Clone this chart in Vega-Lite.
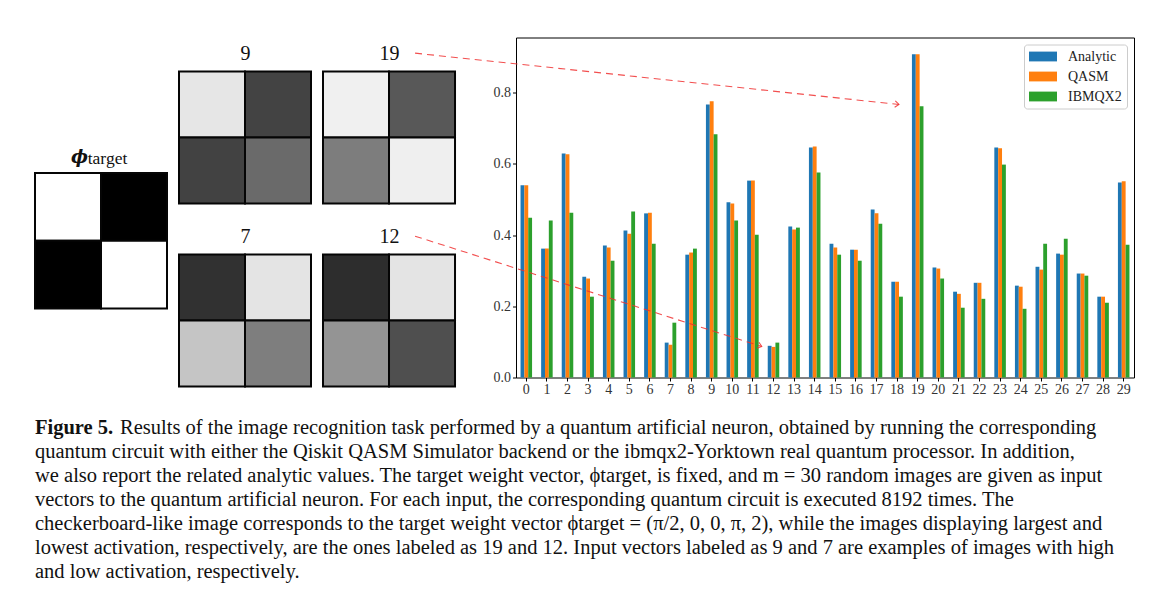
{
  "$schema": "https://vega.github.io/schema/vega-lite/v6.json",
  "padding": {"left": 34, "top": 36.5, "right": 5, "bottom": 5},
  "background": "white",
  "datasets": {
    "cells": [
      {"img": "target", "row": 0, "col": 0, "v": 1.0},
      {"img": "target", "row": 0, "col": 1, "v": 0.0},
      {"img": "target", "row": 1, "col": 0, "v": 0.0},
      {"img": "target", "row": 1, "col": 1, "v": 1.0},
      {"img": "9", "row": 0, "col": 0, "v": 0.914},
      {"img": "9", "row": 0, "col": 1, "v": 0.286},
      {"img": "9", "row": 1, "col": 0, "v": 0.278},
      {"img": "9", "row": 1, "col": 1, "v": 0.45},
      {"img": "19", "row": 0, "col": 0, "v": 0.949},
      {"img": "19", "row": 0, "col": 1, "v": 0.373},
      {"img": "19", "row": 1, "col": 0, "v": 0.525},
      {"img": "19", "row": 1, "col": 1, "v": 0.945},
      {"img": "7", "row": 0, "col": 0, "v": 0.204},
      {"img": "7", "row": 0, "col": 1, "v": 0.906},
      {"img": "7", "row": 1, "col": 0, "v": 0.796},
      {"img": "7", "row": 1, "col": 1, "v": 0.529},
      {"img": "12", "row": 0, "col": 0, "v": 0.184},
      {"img": "12", "row": 0, "col": 1, "v": 0.906},
      {"img": "12", "row": 1, "col": 0, "v": 0.612},
      {"img": "12", "row": 1, "col": 1, "v": 0.337}
    ],
    "caption": [
      {"line": 1, "part": "label", "text": "Figure 5."},
      {"line": 1, "part": "first", "text": "Results of the image recognition task performed by a quantum artificial neuron, obtained by running the corresponding"},
      {"line": 2, "part": "body", "text": "quantum circuit with either the Qiskit QASM Simulator backend or the ibmqx2-Yorktown real quantum processor. In addition,"},
      {"line": 3, "part": "body", "text": "we also report the related analytic values. The target weight vector, ϕtarget, is fixed, and m = 30 random images are given as input"},
      {"line": 4, "part": "body", "text": "vectors to the quantum artificial neuron. For each input, the corresponding quantum circuit is executed 8192 times. The"},
      {"line": 5, "part": "body", "text": "checkerboard-like image corresponds to the target weight vector ϕtarget = (π/2, 0, 0, π, 2), while the images displaying largest and"},
      {"line": 6, "part": "body", "text": "lowest activation, respectively, are the ones labeled as 19 and 12. Input vectors labeled as 9 and 7 are examples of images with high"},
      {"line": 7, "part": "body", "text": "and low activation, respectively."}
    ]
  },
  "vconcat": [
    {
      "hconcat": [
        {
          "width": 132,
          "height": 271,
          "data": {"name": "cells"},
          "transform": [{"filter": "datum.img == 'target'"}],
          "mark": {"type": "rect", "stroke": "#050505", "strokeWidth": 2},
          "encoding": {
            "x": {"field": "col", "type": "ordinal", "scale": {"paddingInner": 0, "paddingOuter": 0},
              "axis": {"orient": "top", "labels": false, "ticks": false, "domain": false, "title": "target", "titleX": 72, "titleY": 125.7, "titleAlign": "center", "titleBaseline": "alphabetic", "titleFontSize": 17.5}},
            "y": {"field": "row", "type": "ordinal", "scale": {"paddingInner": 0, "paddingOuter": 1.053, "align": 1},
              "axis": {"labels": false, "ticks": false, "domain": false, "title": "ϕ", "titleAngle": 0, "titleX": 44, "titleY": 125, "titleAlign": "center", "titleBaseline": "alphabetic", "titleFont": "DejaVu Serif", "titleFontStyle": "italic", "titleFontWeight": "bold", "titleFontSize": 18}},
            "color": {"field": "v", "type": "quantitative", "scale": {"domain": [0, 1], "range": ["#000000", "#ffffff"]}, "legend": null}
          }
        },
        {
          "width": 132,
          "height": 349,
          "data": {"name": "cells"},
          "transform": [{"filter": "datum.img == '9' || datum.img == '7'"}],
          "mark": {"type": "rect", "stroke": "#050505", "strokeWidth": 2},
          "encoding": {
            "x": {"field": "col", "type": "ordinal", "scale": {"paddingInner": 0, "paddingOuter": 0}, "axis": null},
            "y": {"field": "img", "type": "nominal", "sort": ["9", "7"], "scale": {"type": "band", "paddingInner": 0.2787, "paddingOuter": 0.0929, "align": 1},
              "axis": {"title": null, "ticks": false, "tickSize": 0, "domain": false, "labelPadding": -66, "labelAlign": "center", "labelBaseline": "alphabetic", "labelOffset": -77.7, "labelFontSize": 20, "labelColor": "#111111", "labelAngle": 0}},
            "yOffset": {"field": "row", "type": "ordinal", "scale": {"paddingInner": 0, "paddingOuter": 0}},
            "color": {"field": "v", "type": "quantitative", "scale": {"domain": [0, 1], "range": ["#000000", "#ffffff"]}, "legend": null}
          }
        },
        {
          "width": 181,
          "height": 349,
          "data": {"name": "cells"},
          "transform": [{"filter": "datum.img == '19' || datum.img == '12'"}],
          "mark": {"type": "rect", "stroke": "#050505", "strokeWidth": 2},
          "encoding": {
            "x": {"field": "col", "type": "ordinal", "scale": {"paddingInner": 0, "paddingOuter": 0.371, "align": 0}, "axis": null},
            "y": {"field": "img", "type": "nominal", "sort": ["19", "12"], "scale": {"type": "band", "paddingInner": 0.2787, "paddingOuter": 0.0929, "align": 1},
              "axis": {"title": null, "ticks": false, "tickSize": 0, "domain": false, "labelPadding": -66, "labelAlign": "center", "labelBaseline": "alphabetic", "labelOffset": -77.7, "labelFontSize": 20, "labelColor": "#111111", "labelAngle": 0}},
            "yOffset": {"field": "row", "type": "ordinal", "scale": {"paddingInner": 0, "paddingOuter": 0}},
            "color": {"field": "v", "type": "quantitative", "scale": {"domain": [0, 1], "range": ["#000000", "#ffffff"]}, "legend": null}
          }
        },
        {
          "width": 618,
          "height": 340,
          "view": {"stroke": "#000000", "strokeWidth": 1},
          "layer": [
            {
              "data": {"values": [
                {"image": 0, "series": "Analytic", "value": 0.54}, {"image": 0, "series": "QASM", "value": 0.54}, {"image": 0, "series": "IBMQX2", "value": 0.449},
                {"image": 1, "series": "Analytic", "value": 0.362}, {"image": 1, "series": "QASM", "value": 0.362}, {"image": 1, "series": "IBMQX2", "value": 0.441},
                {"image": 2, "series": "Analytic", "value": 0.629}, {"image": 2, "series": "QASM", "value": 0.627}, {"image": 2, "series": "IBMQX2", "value": 0.463},
                {"image": 3, "series": "Analytic", "value": 0.283}, {"image": 3, "series": "QASM", "value": 0.278}, {"image": 3, "series": "IBMQX2", "value": 0.227},
                {"image": 4, "series": "Analytic", "value": 0.371}, {"image": 4, "series": "QASM", "value": 0.365}, {"image": 4, "series": "IBMQX2", "value": 0.328},
                {"image": 5, "series": "Analytic", "value": 0.413}, {"image": 5, "series": "QASM", "value": 0.404}, {"image": 5, "series": "IBMQX2", "value": 0.466},
                {"image": 6, "series": "Analytic", "value": 0.461}, {"image": 6, "series": "QASM", "value": 0.463}, {"image": 6, "series": "IBMQX2", "value": 0.376},
                {"image": 7, "series": "Analytic", "value": 0.098}, {"image": 7, "series": "QASM", "value": 0.092}, {"image": 7, "series": "IBMQX2", "value": 0.154},
                {"image": 8, "series": "Analytic", "value": 0.345}, {"image": 8, "series": "QASM", "value": 0.351}, {"image": 8, "series": "IBMQX2", "value": 0.362},
                {"image": 9, "series": "Analytic", "value": 0.767}, {"image": 9, "series": "QASM", "value": 0.776}, {"image": 9, "series": "IBMQX2", "value": 0.683},
                {"image": 10, "series": "Analytic", "value": 0.492}, {"image": 10, "series": "QASM", "value": 0.489}, {"image": 10, "series": "IBMQX2", "value": 0.441},
                {"image": 11, "series": "Analytic", "value": 0.553}, {"image": 11, "series": "QASM", "value": 0.553}, {"image": 11, "series": "IBMQX2", "value": 0.401},
                {"image": 12, "series": "Analytic", "value": 0.089}, {"image": 12, "series": "QASM", "value": 0.086}, {"image": 12, "series": "IBMQX2", "value": 0.098},
                {"image": 13, "series": "Analytic", "value": 0.424}, {"image": 13, "series": "QASM", "value": 0.416}, {"image": 13, "series": "IBMQX2", "value": 0.421},
                {"image": 14, "series": "Analytic", "value": 0.646}, {"image": 14, "series": "QASM", "value": 0.649}, {"image": 14, "series": "IBMQX2", "value": 0.576},
                {"image": 15, "series": "Analytic", "value": 0.376}, {"image": 15, "series": "QASM", "value": 0.365}, {"image": 15, "series": "IBMQX2", "value": 0.345},
                {"image": 16, "series": "Analytic", "value": 0.359}, {"image": 16, "series": "QASM", "value": 0.359}, {"image": 16, "series": "IBMQX2", "value": 0.328},
                {"image": 17, "series": "Analytic", "value": 0.472}, {"image": 17, "series": "QASM", "value": 0.461}, {"image": 17, "series": "IBMQX2", "value": 0.432},
                {"image": 18, "series": "Analytic", "value": 0.269}, {"image": 18, "series": "QASM", "value": 0.269}, {"image": 18, "series": "IBMQX2", "value": 0.227},
                {"image": 19, "series": "Analytic", "value": 0.908}, {"image": 19, "series": "QASM", "value": 0.908}, {"image": 19, "series": "IBMQX2", "value": 0.762},
                {"image": 20, "series": "Analytic", "value": 0.309}, {"image": 20, "series": "QASM", "value": 0.306}, {"image": 20, "series": "IBMQX2", "value": 0.278},
                {"image": 21, "series": "Analytic", "value": 0.241}, {"image": 21, "series": "QASM", "value": 0.235}, {"image": 21, "series": "IBMQX2", "value": 0.196},
                {"image": 22, "series": "Analytic", "value": 0.266}, {"image": 22, "series": "QASM", "value": 0.266}, {"image": 22, "series": "IBMQX2", "value": 0.221},
                {"image": 23, "series": "Analytic", "value": 0.646}, {"image": 23, "series": "QASM", "value": 0.644}, {"image": 23, "series": "IBMQX2", "value": 0.598},
                {"image": 24, "series": "Analytic", "value": 0.258}, {"image": 24, "series": "QASM", "value": 0.255}, {"image": 24, "series": "IBMQX2", "value": 0.193},
                {"image": 25, "series": "Analytic", "value": 0.311}, {"image": 25, "series": "QASM", "value": 0.303}, {"image": 25, "series": "IBMQX2", "value": 0.376},
                {"image": 26, "series": "Analytic", "value": 0.348}, {"image": 26, "series": "QASM", "value": 0.345}, {"image": 26, "series": "IBMQX2", "value": 0.39},
                {"image": 27, "series": "Analytic", "value": 0.292}, {"image": 27, "series": "QASM", "value": 0.292}, {"image": 27, "series": "IBMQX2", "value": 0.286},
                {"image": 28, "series": "Analytic", "value": 0.227}, {"image": 28, "series": "QASM", "value": 0.227}, {"image": 28, "series": "IBMQX2", "value": 0.21},
                {"image": 29, "series": "Analytic", "value": 0.548}, {"image": 29, "series": "QASM", "value": 0.551}, {"image": 29, "series": "IBMQX2", "value": 0.373}
              ]},
              "mark": {"type": "bar"},
              "encoding": {
                "x": {"field": "image", "type": "ordinal", "scale": {"paddingInner": 0.44, "paddingOuter": 0.22},
                  "axis": {"title": null, "labelAngle": 0, "tickSize": 3.5, "labelPadding": 1.5, "domain": false, "labelFontSize": 14, "tickColor": "#000000", "labelColor": "#333333"}},
                "xOffset": {"field": "series", "type": "nominal", "sort": ["Analytic", "QASM", "IBMQX2"], "scale": {"paddingInner": 0, "paddingOuter": 0}},
                "y": {"field": "value", "type": "quantitative", "scale": {"domain": [0, 0.955], "nice": false, "zero": true},
                  "axis": {"title": null, "values": [0, 0.2, 0.4, 0.6, 0.8], "format": ".1f", "grid": false, "domain": false, "tickSize": 3.5, "labelPadding": 2, "labelFontSize": 14, "tickColor": "#000000", "labelColor": "#333333"}},
                "color": {"field": "series", "type": "nominal",
                  "scale": {"domain": ["Analytic", "QASM", "IBMQX2"], "range": ["#1f77b4", "#ff7f0e", "#2ca02c"]},
                  "legend": {"title": null, "orient": "top-right", "offset": 7, "fillColor": "#ffffff", "strokeColor": "#cccccc", "cornerRadius": 3, "padding": 5,
                    "symbolType": "M-1,-0.7H3V0.7H-1Z", "symbolSize": 196, "symbolStrokeWidth": 0, "symbolOpacity": 1,
                    "labelFontSize": 14, "labelFont": "Liberation Serif", "labelColor": "#222222", "labelOffset": 25, "rowPadding": 6}}
              }
            },
            {
              "data": {"values": [
                {"target": 19, "x0": -5.4, "y0": 0.911, "x1": 18.09, "y1": 0.767},
                {"target": 12, "x0": -5.4, "y0": 0.397, "x1": 11.43, "y1": 0.087}
              ]},
              "mark": {"type": "rule", "color": "#f03030", "strokeDash": [7, 5], "strokeWidth": 1.1, "opacity": 0.85},
              "encoding": {
                "x": {"field": "x0", "type": "quantitative", "scale": {"domain": [-0.5, 29.5], "nice": false, "zero": false}, "axis": null},
                "x2": {"field": "x1"},
                "y": {"field": "y0", "type": "quantitative", "scale": {"domain": [0, 0.955], "nice": false}},
                "y2": {"field": "y1"}
              }
            },
            {
              "data": {"values": [
                {"target": 19, "x1": 18.09, "y1": 0.767}
              ]},
              "mark": {"type": "point", "shape": "M-1,-0.8L0,0L-1,0.8", "filled": false, "size": 64, "strokeWidth": 1.1, "color": "#f03030", "opacity": 0.85, "angle": 6},
              "encoding": {
                "x": {"field": "x1", "type": "quantitative", "scale": {"domain": [-0.5, 29.5], "nice": false, "zero": false}, "axis": null},
                "y": {"field": "y1", "type": "quantitative", "scale": {"domain": [0, 0.955], "nice": false}}
              }
            },
            {
              "data": {"values": [
                {"target": 12, "x1": 11.43, "y1": 0.087}
              ]},
              "mark": {"type": "point", "shape": "M-1,-0.8L0,0L-1,0.8", "filled": false, "size": 64, "strokeWidth": 1.1, "color": "#f03030", "opacity": 0.85, "angle": 17.7},
              "encoding": {
                "x": {"field": "x1", "type": "quantitative", "scale": {"domain": [-0.5, 29.5], "nice": false, "zero": false}, "axis": null},
                "y": {"field": "y1", "type": "quantitative", "scale": {"domain": [0, 0.955], "nice": false}}
              }
            }
          ],
          "resolve": {"scale": {"x": "independent"}}
        }
      ],
      "spacing": 12,
      "bounds": "flush"
    },
    {
      "width": 1103,
      "height": 168,
      "data": {"name": "caption"},
      "layer": [
        {
          "transform": [{"filter": "datum.part == 'label'"}],
          "mark": {"type": "text", "align": "left", "baseline": "alphabetic", "fontWeight": "bold", "fontSize": 20.5, "font": "Liberation Serif", "color": "#111111"},
          "encoding": {
            "x": {"datum": 0, "type": "quantitative", "scale": {"domain": [0, 1]}, "axis": null},
            "y": {"field": "line", "type": "ordinal", "scale": {"domain": [1, 2, 3, 4, 5, 6, 7]}, "axis": null},
            "text": {"field": "text"}
          }
        },
        {
          "transform": [{"filter": "datum.part == 'first'"}],
          "mark": {"type": "text", "align": "left", "baseline": "alphabetic", "fontSize": 20.5, "font": "Liberation Serif", "color": "#111111", "dx": 85},
          "encoding": {
            "x": {"datum": 0, "type": "quantitative", "scale": {"domain": [0, 1]}, "axis": null},
            "y": {"field": "line", "type": "ordinal", "scale": {"domain": [1, 2, 3, 4, 5, 6, 7]}, "axis": null},
            "text": {"field": "text"}
          }
        },
        {
          "transform": [{"filter": "datum.part == 'body'"}],
          "mark": {"type": "text", "align": "left", "baseline": "alphabetic", "fontSize": 20.5, "font": "Liberation Serif", "color": "#111111"},
          "encoding": {
            "x": {"datum": 0, "type": "quantitative", "scale": {"domain": [0, 1]}, "axis": null},
            "y": {"field": "line", "type": "ordinal", "scale": {"domain": [1, 2, 3, 4, 5, 6, 7]}, "axis": null},
            "text": {"field": "text"}
          }
        }
      ]
    }
  ],
  "spacing": 20,
  "config": {
    "view": {"stroke": null},
    "font": "Liberation Serif",
    "axis": {"titleFont": "Liberation Serif", "titleFontWeight": "normal", "titleColor": "#111111", "labelFont": "Liberation Serif"}
  }
}
